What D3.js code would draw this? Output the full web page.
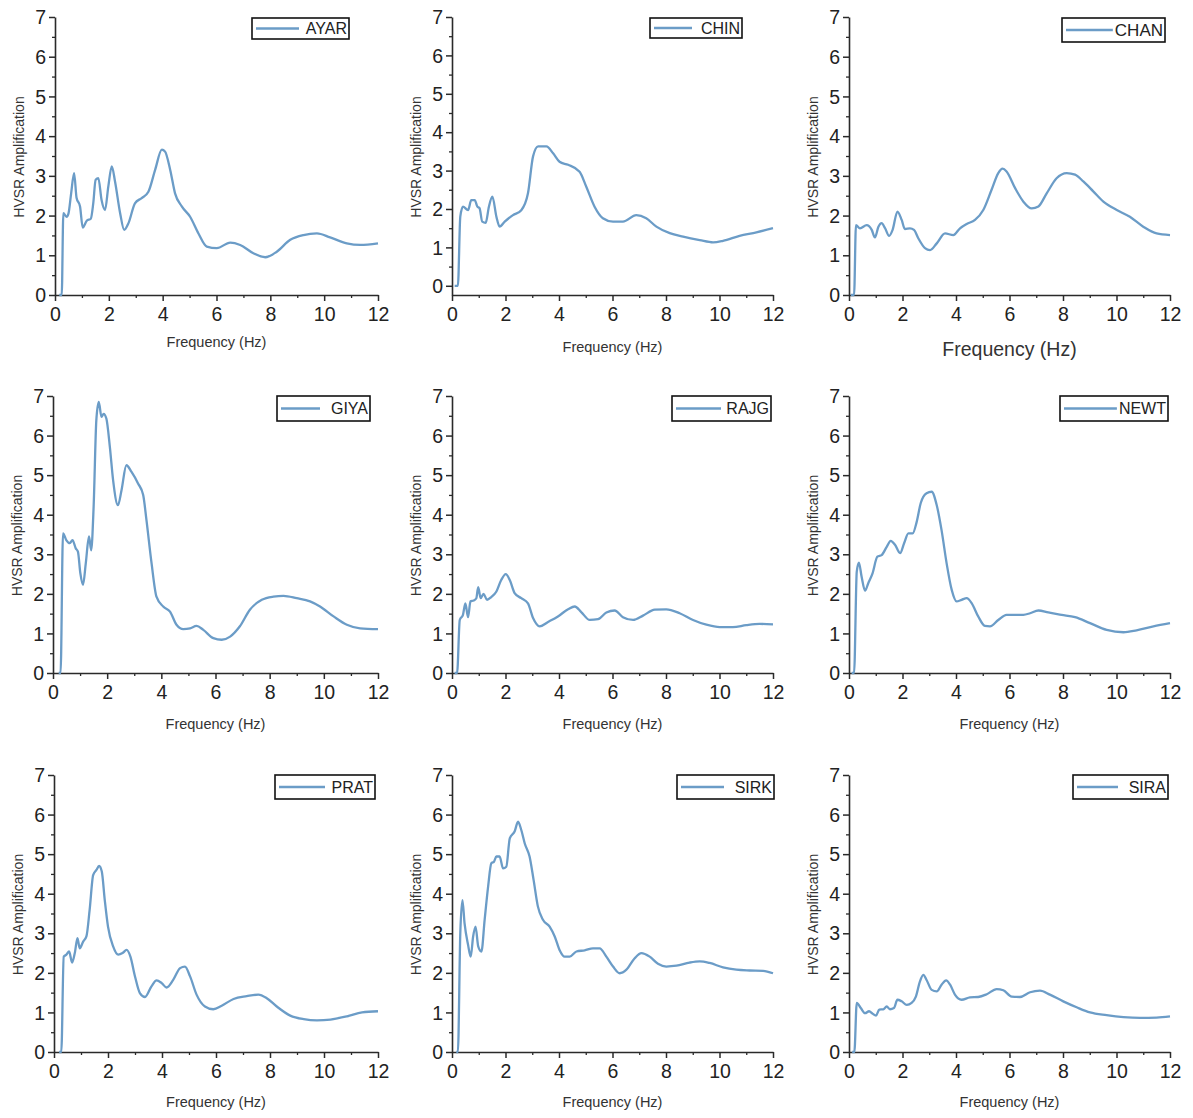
<!DOCTYPE html>
<html>
<head>
<meta charset="utf-8">
<script src="https://cdn.jsdelivr.net/npm/d3@7"></script>
<style>
  html, body { margin: 0; padding: 0; background: #fff; }
  svg { display: block; }
  text { font-family: "Liberation Sans", Arial, sans-serif; }
</style>
</head>
<body>
<svg id="chart" width="1193" height="1118"></svg>
<script>
// ---------------- DATA ----------------
const stations = ["AYAR", "CHIN", "CHAN", "GIYA", "RAJG", "NEWT", "PRAT", "SIRK", "SIRA"];
const xTicks = [0, 2, 4, 6, 8, 10, 12];
const yTicks = [0, 1, 2, 3, 4, 5, 6, 7];
const xTitle = "Frequency (Hz)";
const yTitle = "HVSR Amplification";

// [frequency (Hz), HVSR amplification]
const AYAR = [[0.16,0],[0.25,0],[0.31,2.06],[0.43,1.97],[0.5,2.05],[0.6,2.56],[0.71,3.07],[0.8,2.45],[0.93,2.23],[1.03,1.70],[1.18,1.87],[1.33,1.92],[1.42,2.3],[1.51,2.9],[1.61,2.94],[1.73,2.39],[1.86,2.14],[1.98,2.73],[2.11,3.24],[2.23,2.86],[2.42,2.06],[2.57,1.64],[2.73,1.81],[2.97,2.31],[3.22,2.44],[3.47,2.6],[3.72,3.15],[3.97,3.66],[4.09,3.61],[4.28,3.15],[4.46,2.56],[4.71,2.23],[5.02,1.97],[5.33,1.55],[5.64,1.22],[6.01,1.18],[6.51,1.32],[6.88,1.26],[7.37,1.05],[7.81,0.95],[8.24,1.09],[8.74,1.39],[9.23,1.51],[9.73,1.55],[10.22,1.45],[10.84,1.30],[11.34,1.26],[12,1.3]];
const CHIN = [[0.1,0],[0.22,0],[0.31,1.8],[0.41,2.06],[0.6,1.97],[0.72,2.23],[0.85,2.23],[0.95,2.06],[1.03,2.02],[1.13,1.67],[1.26,1.64],[1.38,2.06],[1.51,2.32],[1.66,1.8],[1.78,1.54],[1.97,1.67],[2.28,1.84],[2.59,1.97],[2.84,2.41],[3.03,3.37],[3.22,3.63],[3.53,3.63],[3.78,3.45],[4.02,3.23],[4.34,3.15],[4.77,2.97],[5.02,2.58],[5.33,2.06],[5.64,1.76],[6.02,1.67],[6.39,1.67],[6.89,1.84],[7.26,1.76],[7.64,1.54],[8.14,1.37],[8.64,1.28],[9.26,1.19],[9.76,1.13],[10.13,1.17],[10.75,1.30],[11.38,1.39],[12,1.5]];
const CHAN = [[0.07,0],[0.19,0],[0.26,1.76],[0.41,1.68],[0.66,1.76],[0.85,1.64],[0.97,1.45],[1.1,1.72],[1.22,1.81],[1.35,1.68],[1.5,1.49],[1.63,1.64],[1.81,2.1],[1.97,1.89],[2.09,1.66],[2.28,1.68],[2.43,1.64],[2.59,1.43],[2.84,1.18],[3.03,1.13],[3.28,1.3],[3.59,1.55],[3.9,1.51],[4.15,1.68],[4.4,1.79],[4.71,1.89],[5.02,2.14],[5.33,2.65],[5.58,3.07],[5.74,3.18],[5.89,3.11],[6.21,2.69],[6.52,2.35],[6.83,2.18],[7.08,2.23],[7.39,2.56],[7.76,2.94],[8.14,3.07],[8.45,3.03],[8.76,2.86],[9.13,2.61],[9.51,2.35],[10.01,2.14],[10.5,1.97],[11.0,1.72],[11.5,1.55],[12,1.51]];
const GIYA = [[0.21,0],[0.28,0],[0.37,3.53],[0.49,3.36],[0.62,3.28],[0.72,3.36],[0.84,3.15],[0.92,3.07],[1.01,2.52],[1.11,2.23],[1.21,2.77],[1.33,3.45],[1.41,3.1],[1.5,4.2],[1.6,6.39],[1.69,6.85],[1.79,6.47],[1.87,6.55],[1.97,6.43],[2.1,5.71],[2.22,4.87],[2.4,4.24],[2.53,4.62],[2.71,5.25],[2.9,5.08],[3.14,4.79],[3.33,4.5],[3.45,3.87],[3.64,2.77],[3.82,1.93],[4.07,1.68],[4.32,1.55],[4.56,1.22],[4.81,1.11],[5.06,1.13],[5.3,1.19],[5.55,1.09],[5.92,0.88],[6.23,0.84],[6.54,0.92],[6.9,1.18],[7.27,1.6],[7.71,1.85],[8.14,1.93],[8.51,1.95],[9.0,1.89],[9.49,1.81],[9.86,1.68],[10.36,1.43],[10.85,1.22],[11.34,1.13],[12,1.11]];
const RAJG = [[0.1,0],[0.19,0],[0.29,1.34],[0.41,1.47],[0.5,1.76],[0.6,1.41],[0.69,1.81],[0.81,1.83],[0.91,1.89],[0.98,2.17],[1.07,1.89],[1.18,2.0],[1.31,1.85],[1.47,1.92],[1.66,2.06],[1.84,2.35],[2.01,2.5],[2.16,2.35],[2.34,2.02],[2.59,1.89],[2.84,1.76],[3.03,1.39],[3.28,1.18],[3.59,1.29],[3.96,1.43],[4.34,1.61],[4.59,1.68],[4.83,1.54],[5.15,1.34],[5.46,1.36],[5.77,1.53],[6.08,1.58],[6.39,1.41],[6.77,1.34],[7.14,1.45],[7.58,1.6],[8.01,1.61],[8.51,1.51],[9.01,1.34],[9.51,1.22],[10.01,1.16],[10.5,1.16],[11.0,1.21],[11.5,1.24],[12,1.23]];
const NEWT = [[0.1,0],[0.19,0],[0.29,2.56],[0.37,2.79],[0.47,2.44],[0.6,2.08],[0.72,2.27],[0.88,2.52],[1.06,2.94],[1.22,2.98],[1.41,3.19],[1.56,3.34],[1.72,3.24],[1.91,3.03],[2.06,3.28],[2.22,3.53],[2.38,3.53],[2.53,3.82],[2.68,4.29],[2.9,4.54],[3.09,4.58],[3.28,4.24],[3.46,3.61],[3.65,2.77],[3.84,2.1],[4.02,1.81],[4.21,1.85],[4.4,1.89],[4.59,1.76],[4.83,1.43],[5.08,1.19],[5.27,1.18],[5.58,1.34],[5.89,1.47],[6.21,1.47],[6.52,1.47],[6.77,1.51],[7.08,1.58],[7.45,1.53],[7.95,1.47],[8.45,1.41],[9.01,1.26],[9.63,1.09],[10.26,1.03],[10.75,1.08],[11.38,1.18],[12,1.26]];
const PRAT = [[0.19,0],[0.27,0],[0.36,2.41],[0.46,2.46],[0.56,2.54],[0.67,2.26],[0.77,2.5],[0.87,2.88],[0.95,2.62],[1.08,2.79],[1.2,2.92],[1.32,3.59],[1.45,4.47],[1.57,4.6],[1.67,4.7],[1.77,4.56],[1.88,3.84],[2.0,3.17],[2.19,2.67],[2.38,2.46],[2.54,2.5],[2.69,2.58],[2.83,2.41],[3.0,1.91],[3.18,1.49],[3.37,1.39],[3.61,1.66],[3.8,1.81],[3.99,1.74],[4.17,1.63],[4.42,1.83],[4.67,2.12],[4.85,2.16],[5.04,1.91],[5.28,1.45],[5.59,1.15],[5.9,1.08],[6.21,1.17],[6.65,1.34],[7.14,1.41],[7.57,1.45],[7.88,1.36],[8.25,1.15],[8.75,0.92],[9.25,0.83],[9.74,0.8],[10.24,0.82],[10.85,0.9],[11.41,1.0],[12,1.03]];
const SIRK = [[0.16,0],[0.22,0],[0.31,3.0],[0.39,3.84],[0.47,3.25],[0.6,2.71],[0.7,2.41],[0.79,2.92],[0.88,3.17],[0.98,2.67],[1.1,2.54],[1.22,3.34],[1.35,4.18],[1.47,4.77],[1.57,4.81],[1.66,4.94],[1.78,4.94],[1.91,4.64],[2.03,4.68],[2.16,5.4],[2.34,5.57],[2.47,5.82],[2.59,5.61],[2.72,5.27],[2.9,4.94],[3.05,4.35],[3.21,3.68],[3.4,3.34],[3.65,3.17],[3.84,2.92],[4.02,2.58],[4.21,2.41],[4.4,2.41],[4.65,2.54],[4.96,2.57],[5.27,2.62],[5.52,2.62],[5.77,2.41],[6.02,2.16],[6.27,1.99],[6.52,2.08],[6.83,2.37],[7.08,2.5],[7.39,2.41],[7.7,2.23],[8.01,2.16],[8.39,2.18],[8.88,2.26],[9.26,2.29],[9.63,2.25],[10.13,2.14],[10.63,2.08],[11.13,2.06],[11.63,2.05],[12,1.99]];
const SIRA = [[0.12,0],[0.2,0],[0.29,1.24],[0.44,1.11],[0.6,0.98],[0.75,1.03],[0.88,0.97],[1.01,0.92],[1.13,1.07],[1.28,1.08],[1.41,1.15],[1.53,1.08],[1.68,1.11],[1.81,1.32],[1.97,1.28],[2.16,1.19],[2.34,1.24],[2.5,1.4],[2.65,1.78],[2.78,1.95],[2.9,1.82],[3.09,1.57],[3.28,1.53],[3.46,1.7],[3.63,1.81],[3.78,1.7],[3.96,1.45],[4.21,1.32],[4.52,1.38],[4.83,1.39],[5.15,1.46],[5.52,1.59],[5.77,1.56],[6.08,1.4],[6.39,1.39],[6.77,1.51],[7.14,1.55],[7.51,1.45],[8.01,1.28],[8.51,1.13],[9.01,1.0],[9.63,0.93],[10.26,0.88],[10.88,0.86],[11.5,0.87],[12,0.9]];
const seriesData = { AYAR, CHIN, CHAN, GIYA, RAJG, NEWT, PRAT, SIRK, SIRA };
const yMins = { AYAR: 0, CHIN: -0.24, CHAN: 0, GIYA: 0, RAJG: 0, NEWT: 0, PRAT: 0, SIRK: 0, SIRA: 0 };

// ---------------- LAYOUT ----------------
const panels = {
  AYAR: { xl: 55,  xr: 378,  yt: 17,  yb: 295,  tb: 347,  tf: 14.5, leg: [252, 18, 349, 39] },
  CHIN: { xl: 452, xr: 773,  yt: 17,  yb: 295,  tb: 352,  tf: 14.5, leg: [650, 18, 742, 38] },
  CHAN: { xl: 849, xr: 1170, yt: 17,  yb: 295,  tb: 356,  tf: 19.5, leg: [1062, 18, 1165, 42] },
  GIYA: { xl: 53,  xr: 378,  yt: 396, yb: 673,  tb: 729,  tf: 14.5, leg: [277, 396, 370, 421] },
  RAJG: { xl: 452, xr: 773,  yt: 396, yb: 673,  tb: 729,  tf: 14.5, leg: [672, 396, 771, 421] },
  NEWT: { xl: 849, xr: 1170, yt: 396, yb: 673,  tb: 729,  tf: 14.5, leg: [1060, 396, 1168, 421] },
  PRAT: { xl: 54,  xr: 378,  yt: 775, yb: 1052, tb: 1107, tf: 14.5, leg: [275, 775, 375, 799] },
  SIRK: { xl: 452, xr: 773,  yt: 775, yb: 1052, tb: 1107, tf: 14.5, leg: [677, 775, 774, 799] },
  SIRA: { xl: 849, xr: 1170, yt: 775, yb: 1052, tb: 1107, tf: 14.5, leg: [1073, 775, 1168, 799] }
};
const lineColor = "#6b9cc7";
const axisColor = "#2a2a2a";

const svg = d3.select("#chart");

stations.forEach(name => {
  const p = panels[name];
  const data = seriesData[name];
  const x = d3.scaleLinear().domain([0, 12]).range([p.xl, p.xr]);
  const y = d3.scaleLinear().domain([yMins[name], 7]).range([p.yb, p.yt]);
  const g = svg.append("g");

  // minor ticks
  const xMinor = d3.range(1, 12, 2);
  const yMinor = d3.range(0.5, 7, 1);
  g.append("g").attr("transform", `translate(0,${p.yb})`)
    .call(d3.axisBottom(x).tickValues(xMinor).tickSize(3).tickSizeOuter(0).tickFormat(""))
    .call(s => { s.select(".domain").remove(); s.selectAll("line").attr("stroke", axisColor).attr("stroke-width", 1.3); });
  g.append("g").attr("transform", `translate(${p.xl},0)`)
    .call(d3.axisLeft(y).tickValues(yMinor).tickSize(3).tickSizeOuter(0).tickFormat(""))
    .call(s => { s.select(".domain").remove(); s.selectAll("line").attr("stroke", axisColor).attr("stroke-width", 1.3); });

  // major axes
  const fmt = d3.format("d");
  const xa = g.append("g").attr("transform", `translate(0,${p.yb})`)
    .call(d3.axisBottom(x).tickValues(xTicks).tickFormat(fmt).tickSize(6).tickSizeOuter(0).tickPadding(6));
  const ya = g.append("g").attr("transform", `translate(${p.xl},0)`)
    .call(d3.axisLeft(y).tickValues(yTicks).tickFormat(fmt).tickSize(6).tickSizeOuter(0).tickPadding(3));
  [xa, ya].forEach(a => {
    a.select(".domain").attr("stroke", axisColor).attr("stroke-width", 1.6);
    a.selectAll(".tick line").attr("stroke", axisColor).attr("stroke-width", 1.5);
    a.selectAll(".tick text").attr("fill", "#222").style("font-size", "19.5px")
      .style("font-family", '"Liberation Sans", Arial, sans-serif');
  });
  ya.selectAll(".tick text").attr("dy", "0.34em");

  // curve
  const line = d3.line().x(d => x(d[0])).y(d => y(d[1])).curve(d3.curveMonotoneX);
  g.append("path").datum(data).attr("d", line)
    .attr("fill", "none").attr("stroke", lineColor).attr("stroke-width", 2.3)
    .attr("stroke-linejoin", "round");

  // axis titles
  g.append("text").attr("x", (p.xl + p.xr) / 2).attr("y", p.tb)
    .attr("text-anchor", "middle").attr("fill", "#333")
    .style("font-size", p.tf + "px").text(xTitle);
  g.append("text")
    .attr("transform", `translate(${p.xl - 31},${(p.yt + p.yb) / 2 + 1}) rotate(-90)`)
    .attr("text-anchor", "middle").attr("fill", "#333")
    .style("font-size", "14px").text(yTitle);

  // legend
  const [lx0, ly0, lx1, ly1] = p.leg;
  g.append("rect").attr("x", lx0).attr("y", ly0).attr("width", lx1 - lx0).attr("height", ly1 - ly0)
    .attr("fill", "#fff").attr("stroke", "#111").attr("stroke-width", 1.6);
  const lm = (ly0 + ly1) / 2;
  const lt = g.append("text").attr("x", lx1 - 2).attr("y", lm).attr("dy", "0.36em")
    .attr("text-anchor", "end").attr("fill", "#222")
    .style("font-size", name === "CHAN" ? "17px" : "16px").text(name);
  const tStart = lt.node().getBBox().x;
  g.append("line").attr("x1", lx0 + 4).attr("x2", Math.min(tStart - 2, lx1 - 50)).attr("y1", lm).attr("y2", lm)
    .attr("stroke", lineColor).attr("stroke-width", 2.3);
});
</script>
</body>
</html>
